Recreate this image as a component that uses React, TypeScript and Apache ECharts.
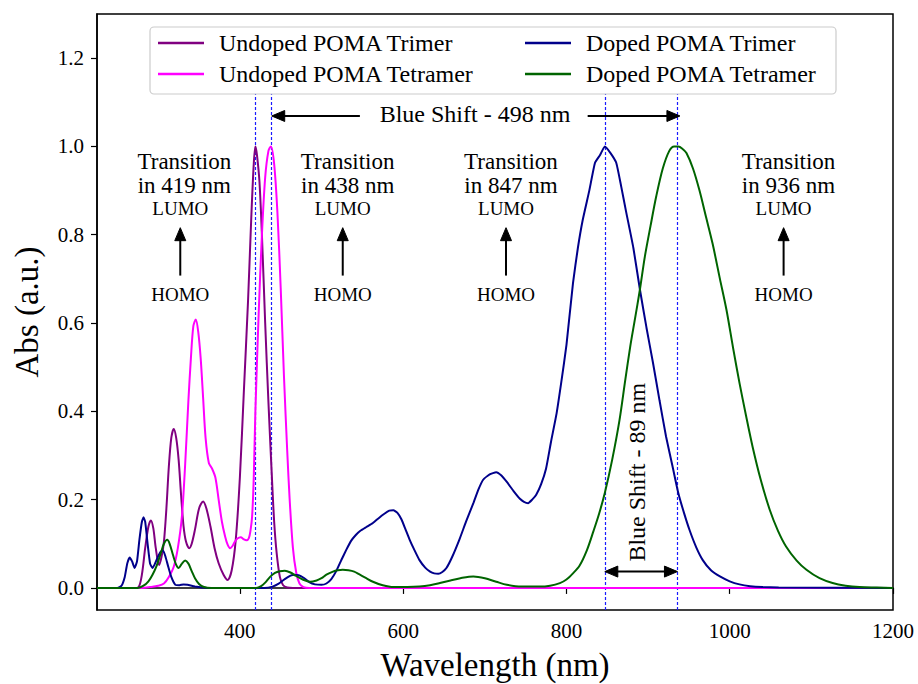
import React, { useEffect, useRef } from "react";
import * as echarts from "echarts";

const FONT = "'Liberation Serif', 'Times New Roman', serif";

// ---------- data ----------
const undopedTrimerX = [225, 270, 276, 280, 284, 288, 291, 294, 297, 301, 304, 307, 310, 313, 316, 319, 322, 325, 328, 331, 334, 338, 341, 345, 350, 355, 359, 364, 369, 374, 380, 385, 390, 395, 400, 405, 410, 414, 417, 419, 421, 424, 427, 431, 435, 439, 442, 445, 449, 453, 458, 465, 500, 1200];
const undopedTrimerY = [0, 0, 0.002, 0.03, 0.09, 0.139, 0.153, 0.135, 0.09, 0.052, 0.07, 0.105, 0.18, 0.275, 0.34, 0.36, 0.34, 0.29, 0.21, 0.14, 0.105, 0.09, 0.1, 0.132, 0.18, 0.196, 0.18, 0.139, 0.09, 0.056, 0.03, 0.018, 0.04, 0.11, 0.25, 0.45, 0.65, 0.84, 0.96, 1.0, 0.98, 0.92, 0.8, 0.6, 0.42, 0.26, 0.15, 0.08, 0.025, 0.006, 0.001, 0, 0, 0];

const undopedTetramerX = [225, 280, 290, 300, 307, 313, 319, 324, 329, 333, 337, 340, 343, 346, 349, 352, 355, 358, 362, 366, 370, 374, 378, 382, 385, 388, 391, 394, 397, 401, 405, 408, 411, 413, 415, 417, 419, 423, 427, 431, 435, 438, 442, 446, 450, 454, 458, 461, 465, 469, 473, 478, 485, 1200];
const undopedTetramerY = [0, 0, 0.002, 0.005, 0.01, 0.025, 0.048, 0.09, 0.162, 0.28, 0.426, 0.52, 0.593, 0.608, 0.58, 0.52, 0.43, 0.34, 0.283, 0.27, 0.25, 0.2, 0.15, 0.116, 0.098, 0.09, 0.095, 0.105, 0.112, 0.115, 0.11, 0.108, 0.113, 0.13, 0.162, 0.25, 0.4, 0.62, 0.8, 0.93, 0.99, 1.0, 0.96, 0.85, 0.68, 0.48, 0.31, 0.2, 0.09, 0.035, 0.01, 0.002, 0, 0];

const dopedTrimerX = [225, 250, 255, 259, 262, 265, 268, 271, 274, 277, 280, 282, 284, 287, 290, 293, 296, 300, 303, 306, 309, 312, 316, 321, 326, 331, 336, 345, 360, 430, 440, 447, 455, 462, 467, 472, 478, 485, 492, 500, 506, 512, 518, 524, 530, 536, 542, 548, 555, 563, 570, 577, 583, 588, 593, 598, 603, 608, 614, 620, 627, 633, 638, 643, 648, 653, 660, 669, 677, 686, 692, 698, 706, 714, 720, 727, 735, 743, 748, 753, 758, 763, 769, 775, 781, 788, 794, 800, 808, 814, 820, 828, 835, 841, 847, 854, 861, 867, 873, 882, 890, 898, 906, 914, 922, 930, 937, 944, 951, 959, 967, 977, 988, 1000, 1012, 1025, 1040, 1060, 1200];
const dopedTrimerY = [0, 0, 0.005, 0.025, 0.055, 0.069, 0.06, 0.045, 0.06, 0.11, 0.15, 0.16, 0.15, 0.1, 0.055, 0.045, 0.055, 0.072, 0.082, 0.085, 0.07, 0.05, 0.025, 0.007, 0.006, 0.008, 0.007, 0.003, 0, 0, 0.003, 0.009, 0.02, 0.028, 0.03, 0.029, 0.023, 0.013, 0.008, 0.007, 0.01, 0.02, 0.038, 0.062, 0.085, 0.106, 0.12, 0.13, 0.138, 0.147, 0.158, 0.168, 0.175, 0.176, 0.17, 0.155, 0.132, 0.109, 0.085, 0.063, 0.046, 0.037, 0.033, 0.032, 0.036, 0.045, 0.07, 0.11, 0.15, 0.192, 0.222, 0.245, 0.257, 0.262, 0.255, 0.24, 0.22, 0.202, 0.195, 0.192, 0.2, 0.211, 0.235, 0.27, 0.33, 0.396, 0.47, 0.55, 0.69, 0.77, 0.834, 0.9, 0.963, 0.98, 1.0, 0.985, 0.963, 0.91, 0.853, 0.77, 0.676, 0.59, 0.51, 0.425, 0.343, 0.275, 0.215, 0.17, 0.13, 0.092, 0.063, 0.04, 0.026, 0.015, 0.008, 0.004, 0.002, 0.001, 0];

const dopedTetramerX = [225, 275, 282, 288, 293, 298, 303, 307, 311, 314, 318, 322, 325, 329, 333, 337, 341, 345, 350, 356, 365, 420, 426, 431, 437, 443, 449, 455, 462, 469, 477, 486, 494, 500, 506, 514, 520, 526, 533, 540, 546, 553, 563, 575, 588, 605, 620, 633, 645, 658, 670, 686, 700, 714, 727, 745, 767, 780, 792, 800, 808, 816, 825, 833, 840, 847, 856, 865, 872, 878, 884, 890, 896, 903, 910, 918, 926, 932, 937, 942, 947, 955, 963, 971, 979, 988, 996, 1004, 1012, 1020, 1028, 1038, 1049, 1059, 1069, 1082, 1094, 1110, 1126, 1142, 1159, 1180, 1200];
const dopedTetramerY = [0, 0, 0.005, 0.015, 0.03, 0.05, 0.078, 0.1, 0.109, 0.1, 0.075, 0.052, 0.045, 0.055, 0.062, 0.055, 0.038, 0.022, 0.009, 0.002, 0, 0, 0.004, 0.012, 0.025, 0.034, 0.038, 0.039, 0.035, 0.027, 0.019, 0.014, 0.017, 0.022, 0.03, 0.037, 0.04, 0.041, 0.04, 0.037, 0.031, 0.024, 0.014, 0.006, 0.002, 0.002, 0.003, 0.006, 0.011, 0.017, 0.022, 0.026, 0.022, 0.014, 0.007, 0.003, 0.003, 0.005, 0.011, 0.019, 0.033, 0.05, 0.085, 0.128, 0.168, 0.215, 0.29, 0.38, 0.47, 0.545, 0.61, 0.676, 0.75, 0.82, 0.887, 0.95, 0.99, 1.0, 1.0, 0.995, 0.985, 0.95, 0.9, 0.84, 0.78, 0.7, 0.63, 0.545, 0.464, 0.39, 0.32, 0.245, 0.177, 0.13, 0.094, 0.062, 0.041, 0.022, 0.011, 0.005, 0.002, 0.001, 0];

const seriesNames = ["Undoped POMA Trimer", "Undoped POMA Tetramer", "Doped POMA Trimer", "Doped POMA Tetramer"];
const seriesColors = ["#800080", "#ff00ff", "#00008b", "#006400"];

const xTicks = [400, 600, 800, 1000, 1200];
const yTicks = [0, 0.2, 0.4, 0.6, 0.8, 1.0, 1.2];

// transition wavelengths (dashed lines)
const transitionNm = [419, 438, 847, 936];
// annotation columns (data coordinates)
const transitionTextX = [332, 532, 732, 1072];
const transitionArrowX = [327, 526, 726, 1066];

export default function App() {
  const ref = useRef<HTMLDivElement>(null);

  useEffect(() => {
    const chart = echarts.init(ref.current!, null, { renderer: "svg" });
    const xs = [undopedTrimerX, undopedTetramerX, dopedTrimerX, dopedTetramerX];
    const ys = [undopedTrimerY, undopedTetramerY, dopedTrimerY, dopedTetramerY];
    const smooths = [0.3, 0.3, 0.15, 0.3];

    const series: any[] = seriesNames.map((name, k) => ({
      name,
      type: "line",
      data: xs[k].map((x, i) => [x, ys[k][i]]),
      symbol: "none",
      smooth: smooths[k],
      color: seriesColors[k],
      lineStyle: { width: 2, color: seriesColors[k] },
      z: 2 + k,
    }));
    series[0].markLine = {
      silent: true,
      symbol: "none",
      label: { show: false },
      itemStyle: { color: "#0000ff" },
      lineStyle: { color: "#1a1aff", width: 1.2, type: [3, 2], opacity: 1 },
      emphasis: { disabled: true },
      data: transitionNm.map((t) => [{ coord: [t, -0.05] }, { coord: [t, 1.12] }]),
      z: 1,
    };

    const legendCommon = {
      orient: "vertical",
      top: 26,
      icon: "rect",
      itemWidth: 46,
      itemHeight: 2.5,
      itemGap: 7,
      textStyle: { fontFamily: FONT, fontSize: 24, lineHeight: 22, color: "#000", padding: [0, 0, 0, 10] },
      selectedMode: false,
      z: 20,
    };

    chart.setOption({
      animation: false,
      backgroundColor: "#fff",
      textStyle: { fontFamily: FONT },
      grid: { left: 97, right: 25, top: 14, bottom: 74, show: true, borderColor: "#000", borderWidth: 1.5, containLabel: false, outerBoundsMode: "none" },
      legend: [
        { ...legendCommon, left: 153, data: [seriesNames[0], seriesNames[1]] },
        { ...legendCommon, left: 520, data: [seriesNames[2], seriesNames[3]] },
      ],
      xAxis: {
        type: "value",
        min: 225,
        max: 1200,
        name: "Wavelength (nm)",
        nameLocation: "middle",
        nameGap: 38,
        nameTextStyle: { fontFamily: FONT, fontSize: 33, color: "#000" },
        axisLine: { show: true, lineStyle: { color: "#000", width: 1.5 } },
        axisTick: { show: true, length: 6, lineStyle: { color: "#000", width: 1.2 }, customValues: xTicks },
        axisLabel: { fontFamily: FONT, fontSize: 21, color: "#000", margin: 10, customValues: xTicks, formatter: (v: number) => String(v) },
        splitLine: { show: false },
      },
      yAxis: {
        type: "value",
        min: -0.05,
        max: 1.3,
        name: "Abs (a.u.)",
        nameLocation: "middle",
        nameGap: 54,
        nameTextStyle: { fontFamily: FONT, fontSize: 33, color: "#000" },
        axisLine: { show: true, lineStyle: { color: "#000", width: 1.5 } },
        axisTick: { show: true, length: 6, lineStyle: { color: "#000", width: 1.2 }, customValues: yTicks },
        axisLabel: { fontFamily: FONT, fontSize: 21, color: "#000", margin: 13, customValues: yTicks, formatter: (v: number) => v.toFixed(1) },
        splitLine: { show: false },
      },
      series,
    });

    const px = (x: number, y: number) => chart.convertToPixel({ gridIndex: 0 } as any, [x, y]) as number[];

    const arrowEls = (p1: number[], p2: number[], both = false, lw = 2) => {
      const dx = p2[0] - p1[0], dy = p2[1] - p1[1];
      const len = Math.hypot(dx, dy);
      const ux = dx / len, uy = dy / len;
      const hl = 13, hw = 5.5;
      const head = (tip: number[], dirx: number, diry: number) => {
        const bx = tip[0] - dirx * hl, by = tip[1] - diry * hl;
        return {
          type: "polygon",
          z: 30,
          shape: { points: [[tip[0], tip[1]], [bx - diry * hw, by + dirx * hw], [bx + diry * hw, by - dirx * hw]] },
          style: { fill: "#000", stroke: "#000", lineWidth: 1 },
        };
      };
      const start = both ? [p1[0] + ux * hl * 0.8, p1[1] + uy * hl * 0.8] : p1;
      const end = [p2[0] - ux * hl * 0.8, p2[1] - uy * hl * 0.8];
      const els: any[] = [
        { type: "line", z: 30, shape: { x1: start[0], y1: start[1], x2: end[0], y2: end[1] }, style: { stroke: "#000", lineWidth: lw } },
        head(p2, ux, uy),
      ];
      if (both) els.push(head(p1, -ux, -uy));
      return els;
    };

    const text = (t: string, p: number[], size: number, rotation = 0) => ({
      type: "text",
      z: 30,
      x: p[0],
      y: p[1],
      rotation,
      style: { text: t, fontFamily: FONT, fontSize: size, fill: "#000", align: "center", verticalAlign: "middle" },
    });

    const graphic: any[] = [
      {
        type: "rect",
        z: 15,
        shape: { x: 150, y: 27, width: 686, height: 67, r: 4 },
        style: { fill: "rgba(255,255,255,0.85)", stroke: "#cccccc", lineWidth: 1.2 },
      },
    ];

    transitionNm.forEach((nm, i) => {
      const pt = px(transitionTextX[i], 0.914);
      const pa = px(transitionArrowX[i], 0.914);
      graphic.push({
        type: "text",
        z: 30,
        x: pt[0],
        y: pt[1],
        style: {
          text: `{a|Transition}\n{a|in ${nm} nm}\n{b|LUMO}`,
          fontFamily: FONT,
          fill: "#000",
          align: "center",
          verticalAlign: "middle",
          rich: {
            a: { fontFamily: FONT, fontSize: 23, lineHeight: 24, fill: "#000", align: "center" },
            b: { fontFamily: FONT, fontSize: 19, lineHeight: 22, fill: "#000", align: "center", padding: [0, (pt[0] - pa[0]) * 2, 0, 0] },
          },
        },
      });
      graphic.push(text("HOMO", px(transitionArrowX[i], 0.664), 19));
      graphic.push(...arrowEls(px(transitionArrowX[i], 0.7075), px(transitionArrowX[i], 0.816)));
    });

    // Blue shift 498 nm
    graphic.push(text("Blue Shift - 498 nm", px(688, 1.0735), 24));
    graphic.push(...arrowEls(px(547, 1.069), px(439, 1.069)));
    graphic.push(...arrowEls(px(826, 1.069), px(939, 1.069)));

    // Blue shift 89 nm
    graphic.push(text("Blue Shift - 89 nm", px(886.5, 0.262), 24, Math.PI / 2));
    graphic.push(...arrowEls(px(847, 0.037), px(936, 0.037), true));

    chart.setOption({ graphic });

    return () => chart.dispose();
  }, []);

  return <div ref={ref} style={{ position: "absolute", left: 0, top: 0, width: 918, height: 684 }} />;
}
